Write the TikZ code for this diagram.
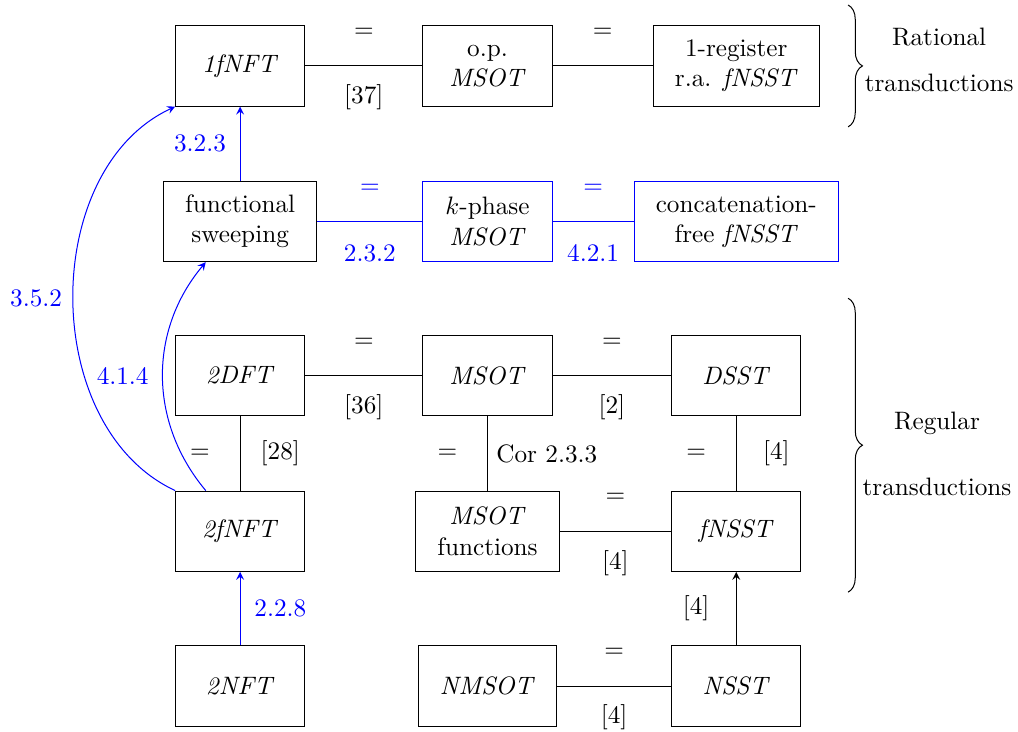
\documentclass[tikz,border=0pt]{standalone}
\usetikzlibrary{decorations.pathreplacing}

\tikzset{
    >=stealth,
    box/.style={draw, align=center, minimum width=1.8cm, minimum height=1.12cm, inner xsep=0.3cm},
    newbox/.style={box, draw=blue},
    newres/.style={blue, text=blue},
    eqabove/.style={midway, yshift=0.46cm},
    refbelow/.style={midway, yshift=-0.44cm},
    eqleft/.style={midway, xshift=-0.56cm},
    refleft/.style={midway, xshift=-0.56cm},
    refright/.style={midway, xshift=0.56cm},
    curly/.style={decorate, decoration={brace, amplitude=0.2cm}}
}

\begin{document}
\begin{tikzpicture}
    \useasboundingbox (0,0) rectangle (14.2,-10.2);

    % one-way / rational
    \node[box] (onefnft) at (3.35,-0.92) {\textit{1fNFT}};
    \node[box] (opmsot) at (6.8,-0.92) {o.p.\\\textit{MSOT}};
    \node[box] (onereg) at (10.27,-0.92) {1-register\\r.a. \textit{fNSST}};

    \node[box] (sweep) at (3.35,-3.09) {functional\\sweeping};
    \node[newbox] (kphase) at (6.8,-3.09) {$k$-phase\\\textit{MSOT}};
    \node[newbox] (concfree) at (10.27,-3.09) {concatenation-\\free \textit{fNSST}};

    % two-way / regular
    \node[box] (twodft) at (3.35,-5.24) {\textit{2DFT}};
    \node[box] (msot) at (6.8,-5.24) {\textit{MSOT}};
    \node[box] (dsst) at (10.27,-5.24) {\textit{DSST}};

    \node[box] (twofnft) at (3.35,-7.41) {\textit{2fNFT}};
    \node[box] (msotfun) at (6.8,-7.41) {\textit{MSOT}\\functions};
    \node[box] (fnsst) at (10.27,-7.41) {\textit{fNSST}};

    \node[box] (twonft) at (3.35,-9.57) {\textit{2NFT}};
    \node[box] (nmsot) at (6.8,-9.57) {\textit{NMSOT}};
    \node[box] (nsst) at (10.27,-9.57) {\textit{NSST}};

    % known equivalences
    \draw (onefnft) -- node[eqabove] {$=$} node[refbelow] {[37]} (opmsot);
    \draw (opmsot) -- node[eqabove] {$=$} (onereg);
    \draw (twodft) -- node[eqabove] {$=$} node[refbelow] {[36]} (msot);
    \draw (msot) -- node[eqabove] {$=$} node[refbelow] {[2]} (dsst);
    \draw (twodft) -- node[eqleft] {$=$} node[refright] {[28]} (twofnft);
    \draw (msot) -- node[eqleft] {$=$} node[midway, right] {Cor 2.3.3} (msotfun);
    \draw (dsst) -- node[eqleft] {$=$} node[refright] {[4]} (fnsst);
    \draw (msotfun) -- node[eqabove] {$=$} node[refbelow] {[4]} (fnsst);
    \draw (nmsot) -- node[eqabove] {$=$} node[refbelow] {[4]} (nsst);
    \draw[->] (nsst) -- node[refleft] {[4]} (fnsst);

    % new results
    \draw[newres] (sweep) -- node[eqabove] {$=$} node[refbelow] {2.3.2} (kphase);
    \draw[newres] (kphase) -- node[eqabove] {$=$} node[refbelow] {4.2.1} (concfree);
    \draw[newres, ->] (sweep) -- node[refleft] {3.2.3} (onefnft);
    \draw[newres, ->] (twonft) -- node[refright] {2.2.8} (twofnft);
    \draw[newres, ->] ([xshift=-0.48cm]twofnft.north) to[bend left=40] node[midway, xshift=-0.56cm] {4.1.4} ([xshift=-0.48cm]sweep.south);
    \draw[newres, ->] (twofnft.north west) to[bend left=65] node[midway, xshift=-0.52cm] {3.5.2} (onefnft.south west);

    % classes
    \draw[curly] (11.83,-0.07) -- (11.83,-1.77);
    \node[align=center] (rational) at (13.1,-0.84) {Rational\\[0.22cm]transductions};
    \draw[curly] (11.83,-4.16) -- (11.83,-8.26);
    \node[align=center] (regular) at (13.07,-6.33) {Regular\\[0.5cm]transductions};

\end{tikzpicture}
\end{document}
